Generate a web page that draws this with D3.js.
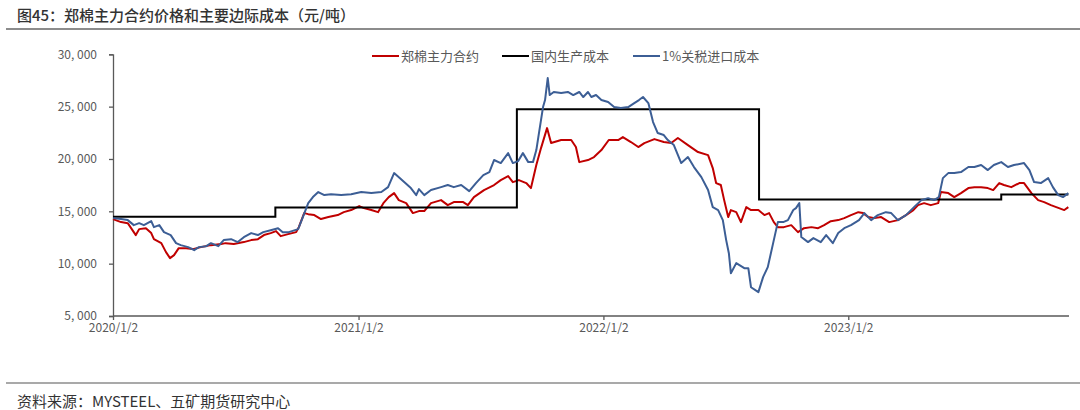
<!DOCTYPE html>
<html><head><meta charset="utf-8">
<script src="https://cdn.jsdelivr.net/npm/d3@7"></script>
<style>
body{margin:0;background:#fff;}
svg{display:block;font-family:"Noto Sans CJK SC","Liberation Sans",sans-serif;}
</style>
</head><body>
<svg id="chart" width="1080" height="410"></svg>
<script>
// ---------- data ----------
const seriesNames = ["郑棉主力合约", "国内生产成本", "1%关税进口成本"];

const redDates = ["2020-01-02","2020-01-14","2020-01-24","2020-02-05","2020-02-10","2020-02-20","2020-02-28","2020-03-03","2020-03-14","2020-03-21","2020-03-27","2020-04-02","2020-04-09","2020-04-20","2020-04-30","2020-05-12","2020-05-27","2020-06-11","2020-06-18","2020-06-30","2020-07-15","2020-07-26","2020-08-05","2020-08-14","2020-08-24","2020-09-01","2020-09-08","2020-09-19","2020-10-01","2020-10-05","2020-10-13","2020-10-19","2020-10-28","2020-11-07","2020-11-18","2020-12-02","2020-12-11","2020-12-22","2021-01-03","2021-01-10","2021-01-21","2021-01-31","2021-02-08","2021-02-16","2021-02-24","2021-03-03","2021-03-14","2021-03-24","2021-04-02","2021-04-10","2021-04-20","2021-05-05","2021-05-15","2021-05-24","2021-06-07","2021-06-14","2021-06-23","2021-07-08","2021-07-23","2021-08-02","2021-08-13","2021-08-20","2021-08-29","2021-09-09","2021-09-16","2021-09-24","2021-10-01","2021-10-10","2021-10-16","2021-10-31","2021-11-15","2021-11-22","2021-11-27","2021-12-10","2021-12-19","2021-12-30","2022-01-10","2022-01-24","2022-01-31","2022-02-12","2022-02-23","2022-03-04","2022-03-19","2022-04-02","2022-04-13","2022-04-23","2022-05-08","2022-05-23","2022-06-07","2022-06-14","2022-06-19","2022-06-26","2022-07-01","2022-07-07","2022-07-11","2022-07-19","2022-07-26","2022-08-03","2022-08-10","2022-08-21","2022-08-30","2022-09-06","2022-09-13","2022-09-19","2022-09-28","2022-10-09","2022-10-19","2022-10-28","2022-11-08","2022-11-18","2022-11-27","2022-12-07","2022-12-18","2022-12-27","2023-01-06","2023-01-17","2023-01-24","2023-02-01","2023-02-10","2023-02-20","2023-03-04","2023-03-17","2023-03-29","2023-04-09","2023-04-16","2023-04-25","2023-05-05","2023-05-16","2023-05-20","2023-05-31","2023-06-09","2023-06-19","2023-06-30","2023-07-09","2023-07-19","2023-07-29","2023-08-06","2023-08-15","2023-08-22","2023-09-02","2023-09-14","2023-09-21","2023-10-02","2023-10-12","2023-10-21","2023-10-31","2023-11-12","2023-11-20","2023-11-26"];
const redValues = [14260,13970,13870,12730,13300,13390,12920,12340,11960,11100,10530,10810,11480,11480,11390,11580,11770,11870,11960,11870,12060,12250,12340,12730,12920,13110,12630,12820,13010,13490,14830,14730,14640,14260,14450,14640,14920,15120,15500,15310,15120,14920,15780,16360,16740,16070,15780,14830,15020,15020,15780,16070,15590,15880,15880,15590,16360,17030,17510,17980,18370,17790,17980,17700,17220,19420,21040,22950,21520,21810,21810,21140,19700,19900,20180,20850,21810,21810,22090,21620,21140,21520,21900,21620,21520,22000,21330,20660,20370,19130,17700,17510,16070,14450,15120,14920,13970,15400,15120,15120,14640,14830,13970,13490,13490,13680,13010,13390,13490,13390,13680,14060,14160,14350,14640,14920,14830,14450,14350,14450,13970,14160,14640,15120,15590,15780,15590,15780,16840,16740,16360,16740,17220,17310,17310,17220,17030,17700,17510,17310,17700,17700,16740,16070,15880,15590,15310,15120,15400];

const blueDates = ["2020-01-02","2020-01-14","2020-01-24","2020-02-02","2020-02-10","2020-02-17","2020-02-28","2020-03-03","2020-03-11","2020-03-18","2020-03-28","2020-04-05","2020-04-12","2020-04-23","2020-05-02","2020-05-09","2020-05-20","2020-05-27","2020-06-07","2020-06-15","2020-06-26","2020-07-06","2020-07-15","2020-07-26","2020-08-05","2020-08-13","2020-08-24","2020-09-04","2020-09-11","2020-09-20","2020-10-04","2020-10-11","2020-10-19","2020-10-26","2020-11-03","2020-11-12","2020-11-22","2020-12-07","2020-12-22","2021-01-06","2021-01-21","2021-02-05","2021-02-15","2021-02-24","2021-03-11","2021-03-21","2021-03-29","2021-04-02","2021-04-10","2021-04-20","2021-05-05","2021-05-15","2021-05-24","2021-06-04","2021-06-16","2021-06-26","2021-07-07","2021-07-16","2021-07-23","2021-08-02","2021-08-13","2021-08-20","2021-08-28","2021-09-04","2021-09-12","2021-09-19","2021-09-24","2021-09-27","2021-10-04","2021-10-07","2021-10-11","2021-10-14","2021-10-20","2021-10-31","2021-11-10","2021-11-18","2021-11-27","2021-12-03","2021-12-10","2021-12-15","2021-12-22","2021-12-30","2022-01-09","2022-01-18","2022-01-28","2022-02-08","2022-02-17","2022-02-24","2022-03-02","2022-03-10","2022-03-17","2022-03-24","2022-04-02","2022-04-08","2022-04-17","2022-04-28","2022-05-08","2022-05-17","2022-05-28","2022-06-07","2022-06-14","2022-06-22","2022-06-29","2022-07-04","2022-07-08","2022-07-11","2022-07-19","2022-07-31","2022-08-06","2022-08-10","2022-08-21","2022-08-28","2022-09-04","2022-09-12","2022-09-19","2022-09-27","2022-10-04","2022-10-12","2022-10-16","2022-10-21","2022-10-24","2022-11-03","2022-11-11","2022-11-22","2022-11-30","2022-12-10","2022-12-18","2022-12-27","2023-01-06","2023-01-18","2023-01-26","2023-02-05","2023-02-15","2023-02-27","2023-03-07","2023-03-17","2023-03-29","2023-04-10","2023-04-21","2023-05-01","2023-05-10","2023-05-17","2023-05-23","2023-05-31","2023-06-09","2023-06-19","2023-06-30","2023-07-09","2023-07-19","2023-07-29","2023-08-07","2023-08-18","2023-08-28","2023-09-06","2023-09-21","2023-09-29","2023-10-06","2023-10-16","2023-10-27","2023-11-03","2023-11-11","2023-11-18","2023-11-26"];
const blueValues = [14350,14260,14160,13680,13870,13680,14060,13490,13680,13010,12730,11960,11770,11580,11290,11580,11670,11960,11670,12250,12340,12060,12530,12920,12730,13010,13200,13390,13010,13010,13300,14450,15780,16360,16840,16550,16640,16550,16640,16840,16740,16840,17310,18650,17790,17220,16550,17120,16550,17030,17310,17510,17310,17510,16930,17700,18460,18750,19900,19610,20560,19610,19800,20560,19700,19700,20850,22090,24960,25630,27730,26110,26400,26300,26400,26110,26400,25920,26400,25920,26110,25630,25440,24960,24870,24960,25340,25630,25920,25340,23530,22480,22290,21810,21330,19610,20180,19230,18270,17030,15400,15120,14160,12250,11000,9090,10050,9570,9570,7750,7280,8710,9670,11960,13970,13970,14160,15120,15310,15780,12540,12060,12440,12060,12730,11960,12920,13390,13680,14160,14830,14160,14640,14920,14830,14160,14640,15400,16070,16260,16070,16360,18170,18650,18650,18750,19230,19230,19420,18940,19420,19700,19230,19420,19610,18940,17790,17700,18170,17310,16550,16360,16740];

const costDates = ["2020-01-02","2020-08-31","2021-08-26","2022-08-22","2023-08-18","2023-11-26"];
const costValues = [14480,15370,24740,16140,16610,16610];

const xTickDates = ["2020-01-02","2021-01-02","2022-01-02","2023-01-02"];
const xTickLabels = ["2020/1/2","2021/1/2","2022/1/2","2023/1/2"];
const yTicks = [5000,10000,15000,20000,25000,30000];

const titleText = "图45：郑棉主力合约价格和主要边际成本（元/吨）";
const sourceText = "资料来源：MYSTEEL、五矿期货研究中心";

// ---------- chart ----------
const parse = d3.timeParse("%Y-%m-%d");
const svg = d3.select("#chart");
const colors = ["#C00000", "#000000", "#3C5E95"];

const x = d3.scaleTime()
  .domain([parse("2020-01-02"), parse("2023-11-27")])
  .range([113, 1069]);
const y = d3.scaleLinear().domain([5000, 30000]).range([316, 54.3]);

// title and rules
svg.append("text").attr("x", 17).attr("y", 21)
  .attr("font-size", 15).attr("fill", "#333").attr("font-weight", 500)
  .text(titleText);
svg.append("line").attr("x1", 6).attr("x2", 1080).attr("y1", 29).attr("y2", 29)
  .attr("stroke", "#8c8c8c").attr("stroke-width", 2);
svg.append("line").attr("x1", 6).attr("x2", 1080).attr("y1", 383).attr("y2", 383)
  .attr("stroke", "#8c8c8c").attr("stroke-width", 1.5);
svg.append("text").attr("x", 17).attr("y", 407)
  .attr("font-size", 15).attr("fill", "#333")
  .text(sourceText);

// axes
const fmt = d3.format(",");
const yAxis = svg.append("g").attr("transform", "translate(113,0)")
  .call(d3.axisLeft(y).tickValues(yTicks).tickSize(4).tickPadding(12)
    .tickFormat(d => fmt(d).replace(",", ", ")));
const xAxis = svg.append("g").attr("transform", "translate(0,316)")
  .call(d3.axisBottom(x).tickValues(xTickDates.map(parse)).tickSize(4).tickPadding(3)
    .tickFormat((d, i) => xTickLabels[i]));
[yAxis, xAxis].forEach(g => {
  g.select(".domain").attr("stroke", "#595959").attr("stroke-width", 1.3);
  g.selectAll(".tick line").attr("stroke", "#595959").attr("stroke-width", 1.3);
  g.selectAll(".tick text").attr("fill", "#595959").attr("font-size", 12)
    .attr("font-family", "\"Noto Sans CJK SC\", sans-serif");
});
xAxis.select(".domain").attr("d", "M113,0H1069");

// lines
const mk = (dates, vals) => dates.map((d, i) => ({ d: parse(d), v: vals[i] }));
const redData = mk(redDates, redValues);
const blueData = mk(blueDates, blueValues);
const costData = mk(costDates, costValues);

const line = d3.line().x(p => x(p.d)).y(p => y(p.v));
const stepLine = d3.line().x(p => x(p.d)).y(p => y(p.v)).curve(d3.curveStepAfter);

svg.append("path").datum(redData).attr("d", line)
  .attr("fill", "none").attr("stroke", colors[0]).attr("stroke-width", 2).attr("stroke-linejoin", "round");
svg.append("path").datum(costData).attr("d", stepLine)
  .attr("fill", "none").attr("stroke", colors[1]).attr("stroke-width", 2);
svg.append("path").datum(blueData).attr("d", line)
  .attr("fill", "none").attr("stroke", colors[2]).attr("stroke-width", 2).attr("stroke-linejoin", "round");

// legend
const legendX = [372, 502, 633];
const lg = svg.append("g");
seriesNames.forEach((name, i) => {
  lg.append("line").attr("x1", legendX[i]).attr("x2", legendX[i] + 27)
    .attr("y1", 56).attr("y2", 56).attr("stroke", colors[i]).attr("stroke-width", 2);
  lg.append("text").attr("x", legendX[i] + 29).attr("y", 60.5)
    .attr("font-size", 13).attr("fill", "#595959").text(name);
});
</script>
</body></html>
